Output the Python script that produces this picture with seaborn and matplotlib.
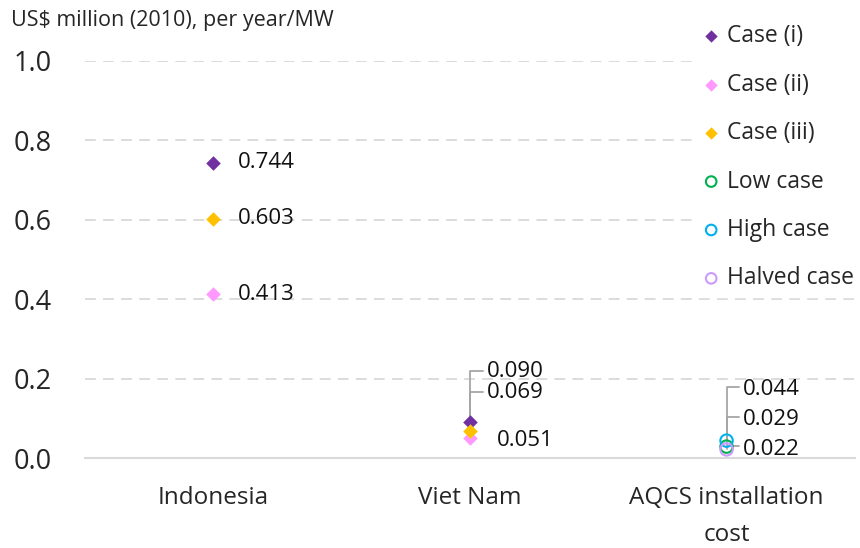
import numpy as np
import pandas as pd
import matplotlib
matplotlib.use("Agg")
import matplotlib.pyplot as plt
import seaborn as sns

# data
categories = ["Indonesia", "Viet Nam", "AQCS installation\ncost"]
case_i = [0.744, 0.090, np.nan]
case_ii = [0.413, 0.051, np.nan]
case_iii = [0.603, 0.069, np.nan]
low_case = [np.nan, np.nan, 0.029]
high_case = [np.nan, np.nan, 0.044]
halved_case = [np.nan, np.nan, 0.022]

series_names = ["Case (i)", "Case (ii)", "Case (iii)", "Low case", "High case", "Halved case"]
series_vals = [case_i, case_ii, case_iii, low_case, high_case, halved_case]
colors = ["#7030A0", "#FF99FF", "#FFC000", "#00B050", "#00B0F0", "#CC99FF"]
markers = ["D", "D", "D", "o", "o", "o"]

sns.set_theme(style="white")
plt.rcParams["font.family"] = ["Open Sans", "DejaVu Sans"]

df = pd.DataFrame({"x": np.arange(len(categories))})

fig = plt.figure(figsize=(8.6, 5.48), dpi=100)
ax = fig.add_axes([0.099, 0.164, 0.895, 0.725])

for name, vals, c, m in zip(series_names, series_vals, colors, markers):
    d = df.assign(y=vals).dropna()
    if m == "D":
        sns.scatterplot(data=d, x="x", y="y", marker="D", color=c, s=55,
                        edgecolor=c, linewidth=0, ax=ax, label=name, zorder=4, clip_on=False)
    else:
        sns.scatterplot(data=d, x="x", y="y", marker="o", facecolors="none",
                        edgecolor=c, color=c, s=80, linewidth=1.5, ax=ax, label=name,
                        zorder=4, clip_on=False)

ax.set_xlim(-0.5, 2.5)
ax.set_ylim(0, 1.0)
ax.set_yticks([0, 0.2, 0.4, 0.6, 0.8, 1.0])
ax.set_yticklabels(["0.0", "0.2", "0.4", "0.6", "0.8", "1.0"], fontsize=19.5)
ax.set_xticks(range(len(categories)))
ax.set_xticklabels(categories, fontsize=17.5, linespacing=1.7)
ax.tick_params(axis="y", length=0, pad=24)
ax.tick_params(axis="x", length=0, pad=20)
ax.set_xlabel("")
ax.set_ylabel("")
for s in ["top", "right", "left"]:
    ax.spines[s].set_visible(False)
ax.spines["bottom"].set_color("#D9D9D9")
ax.spines["bottom"].set_linewidth(1.5)
for yv in [0.2, 0.4, 0.6, 0.8, 1.0]:
    ax.axhline(yv, color="#D9D9D9", lw=1.3, ls=(0, (6, 4)), zorder=1)

lab_kw = dict(fontsize=16, va="center", ha="left", color="#111111")

# Indonesia: labels next to the markers
for vals in [case_i, case_ii, case_iii]:
    ax.text(0 + 0.095, vals[0], f"{vals[0]:.3f}", **lab_kw)

# Viet Nam: leader lines
lead = "#A6A6A6"
vn_label_y = {"Case (i)": 0.219, "Case (iii)": 0.166}
for name, vals in [("Case (i)", case_i), ("Case (iii)", case_iii)]:
    ly = vn_label_y[name]
    ax.plot([1, 1, 1.05], [vals[1], ly, ly], color=lead, lw=1.3, zorder=3)
    ax.text(1.065, ly, f"{vals[1]:.3f}", **lab_kw)
ax.text(1.105, 0.045, f"{case_ii[1]:.3f}", **lab_kw)

# AQCS: leader lines
aq_label_y = {"High case": 0.18, "Low case": 0.104, "Halved case": 0.03}
for name, vals in [("High case", high_case), ("Low case", low_case), ("Halved case", halved_case)]:
    ly = aq_label_y[name]
    ax.plot([2, 2, 2.05], [vals[2], ly, ly], color=lead, lw=1.3, zorder=3)
    ax.text(2.065, ly - 0.008, f"{vals[2]:.3f}", **lab_kw)

leg = ax.legend(loc="upper left", bbox_to_anchor=(0.795, 0.989), bbox_transform=fig.transFigure,
                frameon=True, fontsize=16.5, labelspacing=1.065, handletextpad=0.3,
                handlelength=0.8, borderpad=0.3, markerscale=0.85)
leg.get_frame().set_facecolor("white")
leg.get_frame().set_edgecolor("white")
leg.get_frame().set_alpha(1)

fig.text(0.013, 0.963, "US$ million (2010), per year/MW", fontsize=15.5, va="center", ha="left")

fig.savefig("out.png", dpi=100)
